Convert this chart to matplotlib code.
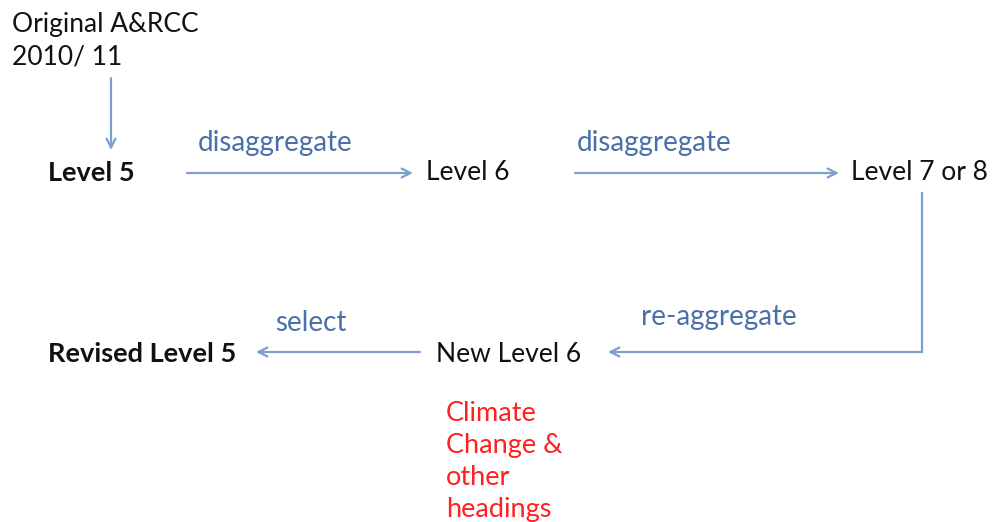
import matplotlib.pyplot as plt

plt.rcParams['font.family'] = ['Lato', 'DejaVu Sans']

# node labels: (text, x, y, bold)
nodes = [
    ("Original A&RCC\n2010/ 11", 12, 41, False),
    ("Level 5", 48, 173, True),
    ("Level 6", 426, 173, False),
    ("Level 7 or 8", 851, 173, False),
    ("New Level 6", 436, 354, False),
    ("Revised Level 5", 48, 354, True),
]

# edge labels: (text, x, y)
edge_labels = [
    ("disaggregate", 198, 143),
    ("disaggregate", 577, 143),
    ("re-aggregate", 641, 317),
    ("select", 275, 323),
]

# arrows: (x0, y0, x1, y1)
arrows = [
    (111, 78, 111, 150),
    (187, 173, 413, 173),
    (575, 173, 839, 173),
    (420, 352, 256, 352),
]

note = "Climate\nChange &\nother\nheadings"

line_col = "#7d9fd0"
label_col = "#4a70a8"

fig = plt.figure(figsize=(9.92, 5.22), dpi=100)
ax = fig.add_axes([0, 0, 1, 1])
ax.set_xlim(0, 992)
ax.set_ylim(522, 0)
ax.axis('off')

for txt, x, y, b in nodes:
    ax.text(x, y, txt, fontsize=19.5 if b else 19, fontweight='bold' if b else 'normal',
            color='#111111', ha='left', va='center', linespacing=1.37)

for txt, x, y in edge_labels:
    ax.text(x, y, txt, fontsize=20, color=label_col, ha='left', va='center')

for x0, y0, x1, y1 in arrows:
    ax.annotate("", xy=(x1, y1), xytext=(x0, y0),
                arrowprops=dict(arrowstyle='->', color=line_col, lw=1.6,
                                mutation_scale=16, shrinkA=0, shrinkB=0))

# elbow connector from Level 7 or 8 back to New Level 6
ax.plot([922, 922], [193, 352], color=line_col, lw=1.6)
ax.annotate("", xy=(608, 352), xytext=(922, 352),
            arrowprops=dict(arrowstyle='->', color=line_col, lw=1.6,
                            mutation_scale=16, shrinkA=0, shrinkB=0))

ax.text(446, 401, note, fontsize=19.5, color='#ff2020', ha='left', va='top',
        linespacing=1.35)

fig.savefig("out.png", dpi=100)
